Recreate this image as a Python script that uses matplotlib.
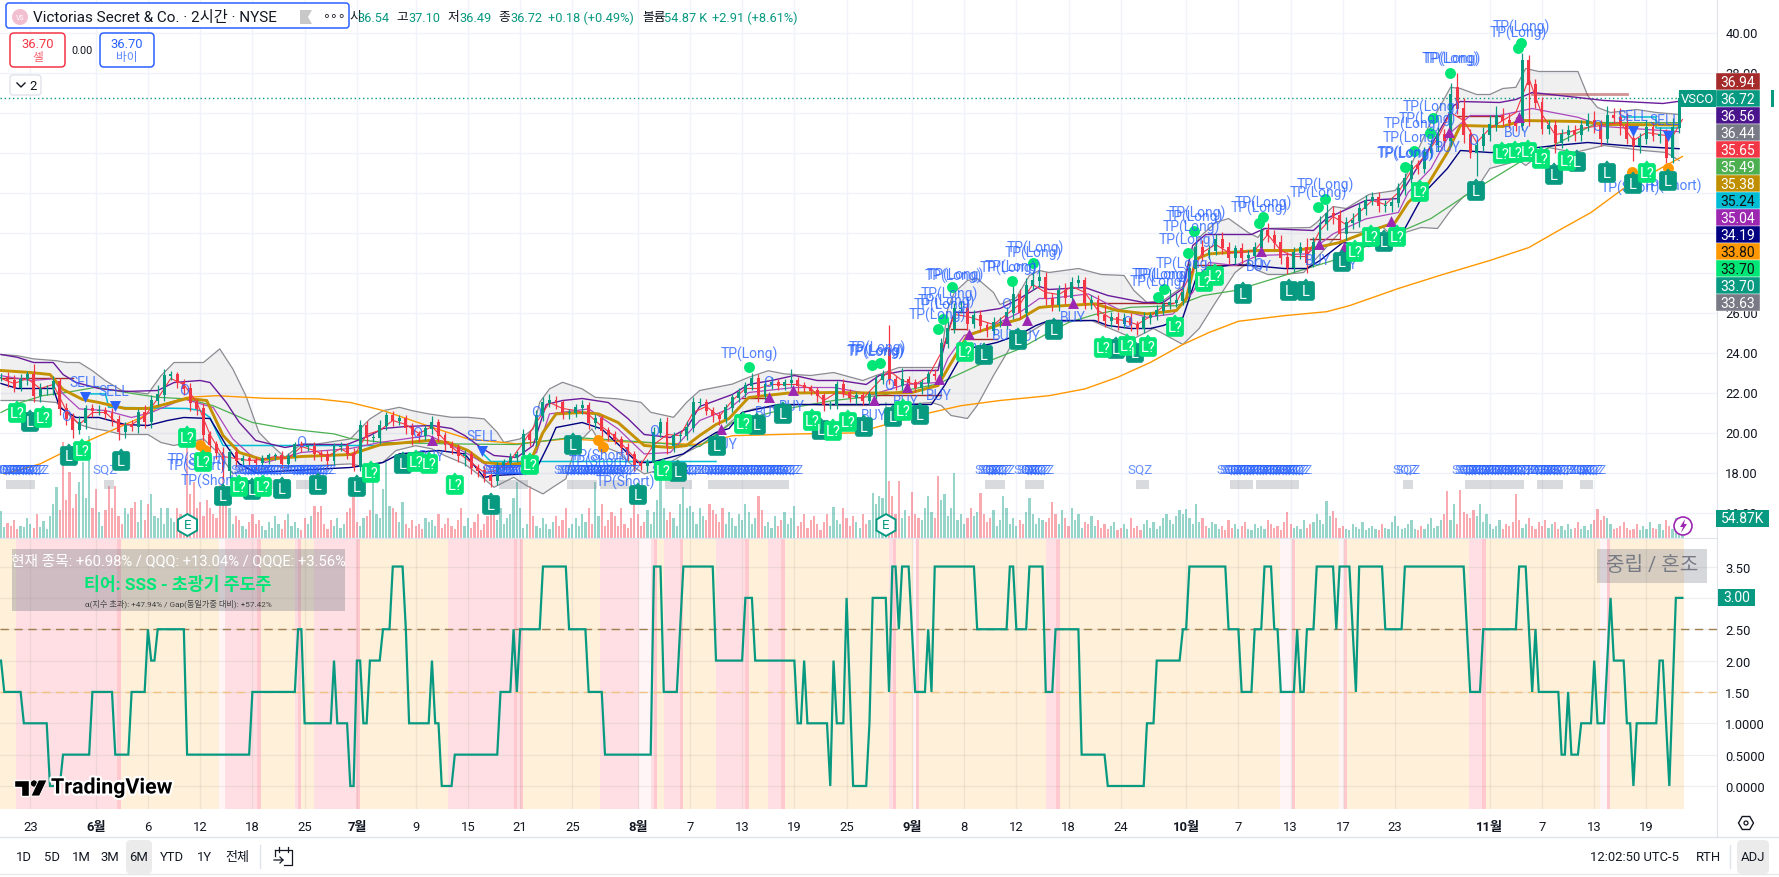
import numpy as np
import matplotlib
matplotlib.use("Agg")
import matplotlib.pyplot as plt
from matplotlib.patches import FancyBboxPatch, Rectangle, Polygon, Circle, RegularPolygon
import matplotlib.patheffects as pe

plt.rcParams['font.family'] = ['Roboto', 'Noto Sans CJK KR', 'DejaVu Sans']

# ------------------------------------------------------------- candles (one per 2 bars)
candle_step = 2
closes = [
22.76,22.6,22.26,22.68,22.93,21.84,22.18,22.18,22.55,21.2,
20.7,20.15,20.5,21.2,21.1,21.1,20.95,20.65,20.05,20.35,
20.3,21.0,20.55,21.6,21.9,22.85,22.9,22.5,22.2,21.5,
21.2,19.9,19.4,19.0,18.1,19.0,18.6,18.7,18.6,18.5,
18.7,18.85,18.85,18.45,18.8,19.4,19.3,19.3,18.95,18.9,
18.6,19.3,19.3,18.95,18.3,20.34,19.75,19.75,20.35,20.85,
20.6,20.7,20.25,19.9,19.85,20.2,20.5,19.85,19.4,19.25,
18.85,18.9,18.25,18.1,17.85,17.6,18.35,18.5,18.75,18.9,
19.9,19.65,20.85,21.5,21.6,21.5,21.0,21.0,21.25,21.35,
20.5,20.7,20.1,19.9,19.65,19.25,18.9,18.4,18.35,18.5,
20.0,20.5,19.35,19.85,19.85,20.25,21.5,21.5,21.1,20.85,
20.7,21.25,21.75,22.0,22.35,22.7,21.85,22.4,22.5,22.35,
22.5,22.6,22.35,22.25,22.1,21.85,21.4,21.4,22.4,22.0,
21.75,21.85,21.6,21.9,22.65,22.9,22.65,22.35,22.65,22.5,
22.25,22.5,22.9,22.85,24.45,25.2,26.2,26.2,25.45,25.85,
25.35,25.1,25.5,25.5,26.0,26.9,26.0,27.35,27.6,27.75,
26.7,26.4,27.1,26.75,27.5,27.6,26.5,26.6,25.85,25.6,
25.75,25.45,25.7,25.4,25.2,25.75,25.85,26.1,26.4,26.5,
26.6,27.0,28.2,29.25,28.9,29.1,29.65,29.25,28.75,29.2,
28.75,28.85,29.25,30.1,29.85,29.5,28.75,28.25,29.0,29.25,
28.5,29.5,30.45,30.95,30.85,29.95,30.5,30.6,31.2,31.6,
31.75,31.35,31.35,31.5,32.2,32.7,33.35,33.2,34.0,34.4,
34.9,34.6,36.9,36.2,34.9,34.0,34.35,34.9,35.4,35.85,
35.6,35.5,35.35,38.6,37.4,36.5,35.2,35.35,34.5,34.9,
35.1,34.9,35.35,35.6,35.35,34.7,35.85,35.75,35.4,34.7,
34.35,34.7,35.25,34.85,34.9,33.75,35.25,36.72]
open_gaps = {272: 24.15, 446: 37.25}
upper_wicks = [
.2,.25,.3,.25,.15,.5,.3,.2,.3,.2,
.3,.3,.35,.2,.25,.3,.2,.3,.25,.2,
.3,.2,.4,.3,.5,.35,.2,.15,.2,.3,
.2,.3,.2,.2,.3,.2,.3,.2,.15,.2,
.2,.15,.15,.25,.2,.15,.2,.15,.25,.2,
.25,.2,.25,.2,.3,.3,.25,.2,.3,.2,
.25,.2,.2,.25,.2,.2,.35,.2,.2,.2,
.2,.25,.2,.2,.25,.15,.2,.2,.25,.2,
.3,.25,.3,.3,.35,.25,.15,.2,.2,.3,
.2,.25,.2,.2,.2,.2,.25,.2,.25,.2,
.3,.25,.3,.2,.2,.35,.3,.25,.2,.2,
.2,.2,.2,.25,.2,.3,.25,.2,.3,.2,
.2,.6,.2,.2,.15,.2,.15,.2,.2,.3,
.2,.2,.2,.2,.25,.25,1.25,.2,.6,.2,
.2,.2,.2,.3,.3,.4,.3,.4,.3,.3,
.3,.2,.3,.3,.3,.5,.3,.4,.5,.4,
.3,.3,.3,.4,.3,.3,.2,.3,.3,.6,
.3,.3,.3,.3,.2,.3,.2,.3,.3,.7,
.4,.3,.3,.3,.4,.3,.3,.4,.3,.2,
.3,.3,.3,.4,.4,.3,.4,.3,.3,.3,
.5,.3,.4,.5,.4,.3,.3,.4,.3,.3,
.3,.3,.3,.3,.3,.3,.3,.3,.3,.3,
.4,.3,.6,.75,.5,.3,.3,.4,.5,.5,
.4,.4,.3,.4,.3,.3,.3,.3,.3,.3,
.3,.3,.3,.4,.5,.3,.5,.4,.5,.6,
.3,.3,.4,.3,.4,.3,.5,.38]
lower_wicks = [
.2,.3,.25,.2,.3,.3,.3,.3,.3,.3,
.3,.4,.2,.3,.3,.2,.25,.3,.4,.3,
.2,.3,.3,.3,.2,.3,.2,.25,.3,.4,
.3,.3,.3,.3,.4,.5,.3,.2,.2,.3,
.2,.25,.2,.2,.2,.2,.25,.2,.3,.3,
.3,.2,.2,.25,.2,.2,.3,.2,.3,.2,
.25,.2,.3,.5,.3,.2,.25,.3,.3,.3,
.3,.5,.3,.3,.3,.3,.2,.2,.2,.2,
.2,.3,.3,.25,.2,.3,.3,.3,.2,.3,
.3,.3,.3,.3,.2,.3,.3,.3,.2,.3,
.3,.2,.4,.3,.3,.2,.2,.2,.2,.3,
.3,.2,.2,.2,.2,.2,.3,.2,.2,.2,
.2,.2,.3,.2,.2,.3,.3,.2,.2,.2,
.2,.3,.2,.2,.2,.2,.2,.2,.2,.2,
.2,.3,.2,.2,.2,.2,.2,.2,.3,.2,
.3,.3,.2,.2,.3,.3,.3,.2,.2,.3,
.3,.3,.3,.3,.2,.2,.3,.3,.3,.3,
.3,.3,.2,.3,.3,.2,.3,.2,.2,.2,
.2,.2,.2,.3,.3,.2,.2,.3,.3,.3,
.3,.3,.2,.3,.3,.3,.3,.3,.2,.3,
.5,.2,.3,.3,.4,.3,.3,.3,.3,.3,
.2,.3,.3,.3,.2,.3,.2,.3,.2,.3,
.3,.3,.3,.3,.4,.3,1.15,.3,.3,.3,
.3,.3,.3,.2,2.05,.3,.3,.3,.5,.3,
.3,.3,.3,.3,.4,.4,.2,.3,.5,.3,
.75,.4,.3,.3,.4,.3,.3,.3]

# volume per bar (1 unit is about 8K shares)
volume_8k = [
27,11,15,12,18,9,12,11,20,14,10,24,11,17,9,22,34,51,28,96,
38,66,30,44,56,76,40,102,30,49,26,12,28,52,30,52,22,14,30,24,
30,36,16,38,18,34,44,22,20,30,14,30,20,16,30,24,12,99,44,56,
30,36,22,38,30,24,20,53,62,44,30,14,22,18,12,9,16,24,14,18,
12,8,16,10,22,14,9,18,24,12,16,10,8,20,14,22,32,26,32,14,
9,18,12,20,10,14,26,30,42,16,12,20,22,28,56,24,20,49,76,32,
30,26,16,36,14,10,18,12,14,9,20,16,18,12,24,10,14,20,12,9,
18,30,12,20,10,16,24,8,14,22,34,26,18,30,14,20,24,40,56,30,
10,14,52,22,12,10,20,14,9,16,22,12,18,30,10,14,20,12,24,16,
30,14,56,22,34,12,18,26,22,12,30,14,10,20,42,24,12,16,28,14,
26,38,66,30,18,26,20,12,34,51,30,32,26,14,30,22,18,34,28,24,
16,30,14,26,20,12,24,18,34,26,14,20,42,28,12,16,10,22,12,18,
26,14,20,32,12,16,24,10,18,22,14,8,16,24,12,31,18,14,30,20,
12,22,16,10,24,14,18,45,34,42,40,136,57,42,24,57,20,28,22,46,
24,20,18,30,42,26,20,62,38,44,22,30,65,18,24,14,20,30,22,26,
45,24,16,20,28,12,18,42,30,14,20,12,18,14,26,40,24,14,20,18,
16,20,36,24,14,28,20,12,30,18,24,10,16,14,22,12,18,10,14,9,
12,16,8,10,14,9,20,10,12,8,14,18,10,16,9,12,20,24,18,14,
22,28,24,29,20,14,34,16,20,12,10,16,14,9,12,8,18,10,14,9,
12,16,9,8,14,10,12,9,18,14,10,12,8,16,26,14,10,12,9,18,
10,14,16,24,18,14,37,22,27,20,10,12,9,8,14,11,9,16,8,10,
12,9,8,14,10,9,16,22,12,9,10,14,18,9,8,12,9,14,20,10,
12,18,24,47,18,34,14,48,26,24,20,28,22,34,16,24,14,9,12,18,
9,14,12,16,44,18,10,14,20,12,9,16,12,18,10,14,16,9,12,8,
14,9,10,16,9,12,8,14,18,29,18,22,20,14,9,10,12,16,10,8,
9,14,8,12,9,16,10,9,14,8,18,12,9,20,16,7]

# ------------------------------------------------------------- overlay lines (read at knots)
bbu_bar = [0,5,10,17,20,24,28,32,37,45,49,53,62,67,71,75,79,83,87,92,97,107,113,117,122,126,131,138,143,148,152,154,159,163,165,168,172,178,182,189,196,199,206,210,214,224,229,235,240,248,255,264,268,275,280,287,288,290,292,296,299,304,306,311,315,318,
           321,330,337,344,347,351,356,362,364,367,372,376,382,385,387,401,403,408,412,416,419,427,430,437,444,447,452,456,460,464,467,471,483,486,489,493,501,507,514]
bbu_val = [23.9,23.84,23.68,23.59,23.5,23.5,23.09,22.59,22.1,21.93,22.84,23.5,23.5,24.18,23.18,21.84,20.01,19.34,18.76,19.43,19.43,19.68,20.68,21.09,21.26,21.09,20.93,20.76,20.76,20.68,20.01,19.51,19.68,20.18,21.51,22.18,22.51,22.18,21.76,21.68,21.51,21.01,20.76,21.51,22.1,22.42,22.76,23.09,22.93,22.85,23.0,22.6,22.85,23.25,23.25,23.25,23.85,26.2,27.0,27.6,27.7,27.0,26.4,26.75,27.85,28.1,
           28.0,28.2,27.9,27.85,27.1,26.5,26.6,27.3,28.7,29.75,30.5,30.7,30.0,29.75,30.2,30.25,30.5,31.3,31.2,31.6,31.9,32.1,32.7,35.2,37.26,37.2,36.9,36.9,37.2,37.26,38.2,38.05,38.05,36.85,36.25,36.0,36.15,36.0,35.9]
bbl_bar = [0,5,10,17,20,24,28,32,37,45,49,53,62,67,71,75,79,83,87,92,97,107,112,117,121,127,132,136,142,148,151,157,161,166,169,173,176,181,184,189,194,197,201,205,210,214,219,227,231,239,245,255,265,271,277,285,288,291,296,299,304,310,320,
           334,339,347,353,362,367,372,378,382,385,388,393,399,410,416,423,425,430,435,440,444,448,452,456,465,467,474,482,491,503,510,514]
bbl_val = [21.6,21.6,21.6,21.5,21.0,20.4,20.2,20.1,19.9,19.9,19.5,19.35,19.68,18.9,17.93,18.2,18.1,18.35,18.25,18.35,18.35,18.43,18.26,18.51,19.1,19.34,19.18,18.84,18.43,17.68,17.26,17.76,17.34,16.93,17.26,17.68,19.34,20.18,19.34,19.01,18.26,17.93,18.09,18.51,19.01,19.34,19.9,21.0,21.2,21.3,21.4,21.35,21.35,21.4,21.4,21.5,21.35,20.85,20.7,21.35,22.85,24.5,25.5,
           25.6,25.25,24.7,25.2,24.4,25.2,26.5,28.0,28.5,28.1,27.9,27.9,28.0,30.0,30.0,30.3,30.0,30.0,30.25,30.2,31.1,31.8,32.2,33.2,33.6,33.35,34.25,34.0,34.35,34.1,34.0,33.6]

purple_upper_bar = [0,5,10,16,19,23,30,38,48,53,61,64,69,73,78,87,92,106,113,117,124,132,138,142,147,151,158,163,167,172,178,186,192,197,205,210,214,224,229,236,243,250,257,265,269,277,287,290,292,298,306,312,318,321,332,339,350,356,362,365,369,383,387,402,406,418,428,430,438,445,447,459,464,469,483,491,509,514]
purple_upper_val = [23.9,23.76,23.5,23.5,22.9,22.5,22.2,22.05,22.1,22.5,22.6,22.5,21.5,20.5,19.6,19.25,19.4,19.4,19.85,20.2,20.3,20.35,20.2,19.85,19.25,18.85,18.75,19.35,21.4,21.6,21.7,21.5,20.7,19.9,19.75,20.2,21.3,21.9,22.4,22.6,22.85,22.6,22.6,22.4,22.85,23.1,23.1,25.0,26.0,26.0,26.2,26.7,27.3,27.15,27.25,26.85,26.5,26.5,27.2,29.35,29.9,29.9,30.2,30.1,30.7,31.6,31.7,32.25,34.35,36.35,36.55,36.5,36.65,37.0,36.75,36.6,36.45,36.56]
navy_bar = [0,5,16,18,23,30,38,45,51,56,64,69,73,78,107,117,122,134,142,148,151,160,164,168,170,178,184,195,199,209,214,219,223,227,238,255,267,285,289,293,296,301,305,312,317,321,335,339,346,352,356,362,366,369,378,383,393,400,404,411,419,425,430,436,443,447,456,464,468,476,486,497,514]
navy_val = [22.45,22.2,22.2,21.25,20.75,20.75,20.4,20.35,20.6,20.75,20.7,19.35,18.43,18.0,18.25,18.5,18.93,19.1,18.93,17.75,17.85,17.93,18.18,19.5,20.25,20.5,20.18,18.5,18.5,18.93,19.5,20.0,20.2,21.0,21.4,21.4,21.4,21.4,22.35,23.5,24.2,24.35,24.5,24.9,25.35,25.6,25.6,25.35,25.2,25.2,25.35,25.75,27.7,28.2,28.4,28.35,28.2,28.2,28.6,29.5,29.3,29.7,30.2,32.0,33.2,34.1,34.0,34.0,34.2,34.35,34.5,34.35,34.19]
gold_bar = [0,9,15,19,25,30,38,45,50,57,63,68,73,80,92,107,116,131,137,143,148,155,162,166,170,178,183,189,197,205,210,214,219,223,229,241,255,268,279,287,290,296,306,312,318,321,335,342,351,360,363,366,370,385,396,403,410,418,427,431,437,443,447,460,466,483,492,514]
gold_val = [23.1,23.0,22.9,22.15,21.65,21.5,21.2,21.2,21.4,21.7,21.6,19.85,19.0,18.65,18.8,18.9,19.38,19.6,19.5,19.1,18.5,18.4,18.5,20.0,20.93,21.0,20.93,20.5,19.35,19.25,19.35,19.85,20.4,20.7,21.75,21.97,22.0,21.97,22.0,22.35,23.2,24.85,25.4,25.67,26.25,26.3,26.43,26.1,25.93,26.1,26.68,28.68,28.93,29.1,29.1,29.25,29.5,30.0,30.5,31.5,32.4,34.0,35.35,35.3,35.6,35.55,35.4,35.38]
purple_mid_bar = [0,9,16,19,24,32,40,46,56,65,71,76,81,92,107,116,131,138,143,150,158,164,168,180,189,197,205,214,223,229,243,255,267,277,287,290,295,302,312,318,321,333,342,351,359,365,370,378,385,400,408,418,428,431,438,444,450,459,469,483,491,514]
purple_mid_val = [22.84,22.6,22.68,21.93,21.18,21.1,20.75,21.0,21.68,21.25,19.68,18.93,18.5,19.0,19.2,19.5,19.85,19.35,18.93,18.25,18.25,19.0,20.93,21.18,20.18,18.93,19.0,20.6,21.18,22.0,22.25,22.25,21.9,22.4,22.5,23.7,24.85,25.2,26.0,26.7,26.7,26.93,26.18,25.76,25.93,27.0,28.5,28.35,28.85,28.93,29.93,30.68,31.0,32.0,33.2,35.0,35.85,35.85,36.2,35.76,35.3,35.04]
red_fast_bar = list(range(0, 516, 4)) + [515]
red_fast_val = [22.7,22.45,22.7,22.2,22.4,21.1,20.4,21.0,21.0,20.4,20.4,20.8,21.7,22.7,22.4,21.5,19.9,18.8,18.7,18.6,18.65,18.8,18.7,19.3,19.1,18.8,19.2,18.8,19.9,20.1,20.6,20.4,19.95,20.3,19.6,19.0,18.5,18.0,18.1,18.6,19.5,20.5,21.5,21.2,21.1,20.9,20.3,19.8,19.1,18.4,19.4,19.9,19.85,21.0,21.3,20.8,21.6,22.2,22.2,22.4,22.4,22.4,22.2,21.6,22.0,21.85,21.7,22.4,23.1,22.6,22.4,22.8,24.0,25.9,25.8,25.6,25.4,25.9,26.4,27.4,27.0,26.9,27.3,27.0,26.1,25.7,25.6,25.4,25.8,26.3,26.5,27.8,29.0,29.4,29.0,29.0,29.1,29.9,29.1,28.8,28.8,30.1,30.8,30.4,31.0,31.6,31.4,32.0,33.1,33.8,34.7,36.0,35.6,34.5,35.2,35.6,36.0,37.7,35.9,34.9,35.0,35.2,35.3,35.4,35.5,34.6,35.0,34.9,34.8,35.65]
orange_bar = [1,12,19,28,35,43,50,57,66,81,97,107,117,132,143,158,173,194,214,224,245,262,268,283,294,306,321,332,342,352,362,370,379,393,406,413,428,441,456,468,476,487,497,515]
orange_val = [17.93,18.43,19.0,19.68,20.18,20.76,21.43,21.76,21.84,21.71,21.68,21.5,21.1,20.26,19.68,19.43,19.68,19.51,19.4,19.84,19.93,19.98,20.26,20.93,21.34,21.6,21.84,22.18,22.76,23.5,24.4,25.0,25.56,25.84,26.04,26.34,27.2,27.87,28.6,29.25,30.0,31.0,32.2,33.8]
green_bar = [0,6,13,20,29,41,48,57,65,77,88,102,107,117,138,158,175,199,214,224,240,255,270,287,299,312,321,327,335,346,360,368,378,392,408,428,438,450,465,476,489,514]
green_val = [21.0,21.5,21.85,22.0,22.26,21.93,21.76,21.68,21.34,20.5,20.18,19.93,19.7,19.5,19.43,19.4,19.76,19.5,19.3,20.5,21.17,21.6,21.87,22.43,23.34,24.18,25.0,25.5,25.9,26.26,26.34,26.84,27.1,27.8,28.6,30.0,30.7,32.0,33.5,34.4,35.5,35.49]

stop_start = [0,227,268,291,296,335,366,401,446]
stop_end = [22,235,288,296,305,359,382,410,460]
stop_val = [22.75,21.75,21.9,25.2,24.67,26.5,28.4,29.7,35.84]
resist_start = [469]; resist_end = [498]; resist_val = [36.94]
cyan_runs = [([26,32,33,57,61,64,68,115],[21.93,21.93,21.26,21.2,21.1,20.75,19.35,19.35]),
             ([147,150,219],[19.05,18.55,18.55]),
             ([496,507,507,514],[35.76,35.76,35.24,35.24])]

# ------------------------------------------------------------- signals
buy_tri_bar = [132,220.4,235.2,242.5,267.5,277.4,287.3,296.5,307.7,314.4,328.4,385.8,403.7,411.3,425.9,443.6,465]
buy_tri_val = [19.64,20.2,21.76,22.14,21.64,22.3,22.68,24.93,25.64,25.64,26.5,29.1,29.43,29.26,30.6,35.04,35.8]
sell_tri_bar = [25.7,34.9,147.2,499.9,510.6]
sell_tri_val = [21.8,21.34,19.09,35.1,34.85]
tp_long_bar = [229.1,268.3,268,267.7,292.2,291.6,290.4,289.4,288.2,286.7,316.7,316.1,310,308.4,362.6,355,354.4,355.9,363.3,364.5,365.4,366.3,385.3,386.5,403.4,405.5,430.6,430,431.9,432.2,437,438,443.8,444.4,464.9,465.8]
tp_long_val = [23.98,24.28,24.13,24.08,27.93,27.88,26.98,26.63,26.43,25.93,29.28,29.03,28.33,28.28,28.48,27.93,27.58,27.93,29.68,30.33,30.83,31.03,31.28,31.53,32.03,32.43,34.03,33.98,34.78,35.48,35.73,36.33,38.73,38.73,40.03,40.33]
tp_dot_bar = [229.1,266.8,269.2,291.3,288.5,287,309.6,316.1,354.4,356.2,363.5,365.4,385.3,386.5,403.4,405.5,430,432.8,437.7,438.6,443.8,465.5,464.6]
tp_dot_val = [23.28,23.4,23.5,27.3,25.7,25.2,27.6,28.5,26.8,27.2,29,30.1,30.5,30.8,31.3,31.7,33.3,34.1,35,35.7,38,39.5,39.2]
short_dot_bar = [61,62.5,182.8,184.5,499.7,510.6]
short_dot_val = [19.38,19.13,19.63,19.26,33.04,33.2]
tp_short_bar = [60.3,60,64,183.5,183,191.1,499,511.8]
tp_short_val = [18.68,18.38,17.63,18.88,18.58,17.58,32.28,32.38]
sell_txt_bar = [25.7,34.6,147.3,499.9,509.6]
sell_txt_val = [22.53,22.08,19.83,35.83,35.63]
buy_txt_bar = [132,234.9,242.3,267.4,277.2,287.3,296.8,307.5,314.5,328.3,385.3,403.4,411.6,443.2,464.3,221.7]
buy_txt_val = [18.83,21.03,21.33,20.88,21.58,21.88,24.18,24.88,24.83,25.78,28.33,28.63,28.43,34.28,35.03,19.43]
open_txt_bar = [20,56,92,127.5,164,200,235,272,308,345,385,451,489]
open_txt_val = [20.8,22.1,19.5,19.97,21.0,20.05,22.5,22.35,26.4,25.5,28.4,34.6,35.3]
l_flag_bar = [8.9,20.8,36.8,68,76.9,86.1,97.1,109,123.1,150.1,175.2,195.1,207.3,219.3,231.5,239.5,251.1,264.3,273.2,281.5,301.1,311.5,322.5,341.5,347.3,380.4,394.5,399.7,410.7,423.6,451.8,475.7,482.7,491.9,499.9,510.6]
l_flag_val = [20.53,18.83,18.58,16.83,17.13,17.18,17.38,17.28,18.43,16.38,19.38,16.88,18.03,19.33,20.38,20.93,20.13,20.28,20.78,20.88,23.88,24.63,25.13,24.18,23.98,26.93,27.08,27.08,28.53,29.53,32.08,32.88,33.53,32.98,32.43,32.58]
lq_flag_bar = [4.9,12.9,24.8,57,61.9,72.9,80.2,113.3,127.1,131.1,139,162,202.8,227.3,248.4,254.8,259.4,276.3,295.3,337.5,344.9,351.3,359.6,368.5,371.8,414.7,419.6,427.6,434.6,459.7,463.7,467.7,471.7,479.6,504.1]
lq_flag_val = [20.98,20.73,19.08,19.73,18.53,17.28,17.28,17.98,18.53,18.43,17.38,18.38,18.08,20.43,20.58,20.08,20.53,21.08,24.03,24.23,24.33,24.28,25.28,27.53,27.83,29.03,29.78,29.78,32.03,33.93,33.98,34.03,33.68,33.58,32.98]
sqz_text_start = [1,32,74,89,151,173,183,203,216,302,314,349,376,384,430,448,470,483]
sqz_text_end   = [11,32,85,99,160,183,192,212,242,307,319,349,383,398,431,467,479,488]
sqz_box_start  = [2,32,76,91,153,174,184,204,217,302,314,348,377,385,430,449,471,484]
sqz_box_end    = [10,34,85,98,161,182,192,211,241,307,319,351,383,397,432,466,478,487]

# ------------------------------------------------------------- oscillator: bar where a level begins, and the level
osc_start = [0,1,7,15,19,28,35,40,45,46,48,57,77,91,93,102,103,107,109,111,113,117,120,124,125,132,133,135,139,153,157,158,159,166,174,180,185,200,203,208,209,219,228,231,244,246,247,254,255,256,259,260,261,266,267,272,273,275,276,279,280,284,285,286,299,309,311,315,320,323,331,339,351,354,362,364,376,380,384,387,390,392,397,398,400,403,409,410,414,415,416,424,430,449,450,454,465,468,469,470,471,478,480,481,484,488,489,492,493,494,498,500,501,508,510,511,512,513]
osc_level = [2.0,1.5,1.0,0,0.5,1.5,0.5,1.5,2.5,2.0,2.5,0.5,1.5,2.5,1.0,2.0,1.0,0,2.0,1.0,2.0,2.5,3.5,2.5,1.0,2.0,1.0,0,0.5,1.5,2.5,1.5,2.5,3.5,2.5,1.5,0.5,3.5,1.5,2.5,3.5,2.0,3.0,2.0,1.0,2.0,1.0,0,2.0,1.0,3.0,1.5,0,1.0,3.0,1.5,3.5,2.5,3.5,2.5,1.5,2.5,1.5,3.5,2.5,3.5,2.5,3.5,1.5,2.5,0.5,0,1.0,2.0,2.5,3.5,2.5,1.5,2.5,3.5,2.5,1.5,2.5,1.5,2.5,3.5,2.5,3.5,2.5,1.5,3.5,2.5,3.5,2.5,1.5,2.5,3.5,2.5,1.5,2.5,1.5,0.5,1.5,0.5,1.0,2.0,1.0,2.0,3.0,2.0,1.0,0,1.0,2.0,1.0,0,1.5,3.0]
osc_last_bar = 515
osc_guides = [2.5, 1.5]
bg_edges = [-0.3,4.6,35.5,36.7,66.8,68.6,78.5,79.7,90,90.9,92,96,108.7,110,137,157,158,159.1,160,183.5,195.3,199.1,200,201,203.1,208,209,219,228,229.1,235,239,240.1,272.1,273.3,274.2,279.4,280.3,281.3,320.2,323.2,324.4,391.6,395.4,396.4,409.8,411.4,412.3,449.5,453.5,454.7,489.7,491.8,492.8,515.6]
bg_kinds = "OPDOWPDOPDOPDOPDPDOPWPDOPDOPDOPDOPDOWDOPDOWDOWDOPDOWDO"

# ------------------------------------------------------------- ticks and labels
time_tick_bar = [9,29,45,61,77,93,109,127,143,159,175,195,211,227,243,259,279,295,311,327,343,363,379,395,411,427,456,472,488,504]
time_tick_lab = ['23','6월','6','12','18','25','7월','9','15','21','25','8월','7','13','19','25','9월','8','12','18','24','10월','7','13','17','23','11월','7','13','19']
month_labels = {'6월','7월','8월','9월','10월','11월'}
price_ticks = [16,18,20,22,24,26,28,30,32,34,36,38,40]
osc_ticks = [0,0.5,1,1.5,2,2.5,3,3.5]
osc_tick_lab = ['0.0000','0.5000','1.0000','1.50','2.00','2.50','3.00','3.50']
tag_vals = ['36.94','36.72','36.56','36.44','35.65','35.49','35.38','35.24','35.04','34.19','33.80','33.70','33.70','33.63']
tag_cols = ['#a52a2a','#089981','#4a148c','#787b86','#f23645','#4caf50','#bf8f00','#00bcd4','#9c27b0','#000080','#ff9800','#00e676','#089981','#787b86']
tag_text = ['w','w','w','w','w','w','w','k','w','w','k','k','w','w']

UP, DOWN = '#089981', '#f23645'
W, H = 1779, 878
fig = plt.figure(figsize=(W/100, H/100), dpi=100, facecolor='white')
def rect(x0, y0, x1, y1):
    return [x0/W, 1-y1/H, (x1-x0)/W, (y1-y0)/H]

x_lim = (-0.306, 525.6)
axv = fig.add_axes(rect(0, 0, 1717, 539), zorder=1)
axm = fig.add_axes(rect(0, 0, 1717, 539), zorder=2, facecolor='none')
axo = fig.add_axes(rect(0, 539, 1717, 810), zorder=2)
ui = fig.add_axes([0, 0, 1, 1], zorder=20, facecolor='none')
ui.set_xlim(0, W); ui.set_ylim(H, 0); ui.axis('off')

for a in (axv, axm, axo):
    a.set_xlim(*x_lim)
    for s in a.spines.values():
        s.set_visible(False)

axv.set_ylim(0, 539); axv.set_xticks([]); axv.set_yticks([])
for b in time_tick_bar:
    axv.axvline(b, color='#f0f3fa', lw=1, zorder=0)
for p in price_ticks:
    axv.axhline((p-14.725)*20, color='#f0f3fa', lw=1, zorder=0)

n = len(closes)
cbar = np.arange(n)*candle_step
opens = [closes[0]] + closes[:-1]
opens = [open_gaps.get(int(b), o) for b, o in zip(cbar, opens)]
up = [c >= o for o, c in zip(opens, closes)]
vol_col = [UP if up[min(i//candle_step, n-1)] else DOWN for i in range(len(volume_8k))]
axv.bar(np.arange(len(volume_8k)), volume_8k, width=0.68, color=vol_col, alpha=0.42, lw=0, zorder=1)

axm.set_ylim(14.725, 41.675)
axm.set_xticks([])
axm.yaxis.tick_right()
axm.set_yticks(price_ticks, [f'{p:.2f}' for p in price_ticks])
axm.tick_params(axis='y', length=0, pad=6, labelsize=9.4, labelcolor='#131722')
axm.axhline(36.72, color='#089981', lw=1, ls=(0, (1, 2)), zorder=2)

axm.fill(bbu_bar + bbl_bar[::-1], bbu_val + bbl_val[::-1], color='#787b86', alpha=0.11, lw=0, zorder=1)
axm.plot(bbu_bar, bbu_val, color='#8b8b92', lw=0.9, zorder=2)
axm.plot(bbl_bar, bbl_val, color='#8b8b92', lw=0.9, zorder=2)
axm.plot(orange_bar, orange_val, color='#ff9800', lw=1.0, zorder=2)
axm.plot(green_bar, green_val, color='#4caf50', lw=0.9, zorder=2)
for s, e, v in zip(stop_start, stop_end, stop_val):
    axm.plot([s, e], [v, v], color='#a52a2a', lw=1.0, zorder=2)
for s, e, v in zip(resist_start, resist_end, resist_val):
    axm.plot([s, e], [v, v], color='#a52a2a', lw=2, alpha=0.5, zorder=2)
for bb, vv in cyan_runs:
    axm.plot(bb, vv, color='#00bcd4', lw=1.1, zorder=2)
axm.plot(purple_upper_bar, purple_upper_val, color='#6a1b9a', lw=1.0, zorder=3)
axm.plot(navy_bar, navy_val, color='#000080', lw=1.0, zorder=3)
axm.plot(purple_mid_bar, purple_mid_val, color='#ab47bc', lw=0.9, zorder=3)
axm.plot(gold_bar, gold_val, color='#c49102', lw=2.1, zorder=3)
axm.plot(red_fast_bar, red_fast_val, color='#f23645', lw=0.8, zorder=3)

col = [UP if u else DOWN for u in up]
hi = [max(o, c)+w for o, c, w in zip(opens, closes, upper_wicks)]
lo = [min(o, c)-w for o, c, w in zip(opens, closes, lower_wicks)]
axm.vlines(cbar, lo, hi, colors=col, lw=0.9, zorder=4)
axm.bar(cbar, np.abs(np.array(closes)-np.array(opens))+0.04,
        bottom=np.minimum(opens, closes)-0.02, width=0.9, color=col, lw=0, zorder=4)

axm.scatter(buy_tri_bar, buy_tri_val, marker='^', s=62, color='#9c27b0', lw=0, zorder=5)
axm.scatter(sell_tri_bar, sell_tri_val, marker='v', s=62, color='#2962ff', lw=0, zorder=5)
axm.scatter(tp_dot_bar, tp_dot_val, s=62, color='#00e676', lw=0, zorder=5)
axm.scatter(short_dot_bar, short_dot_val, s=62, color='#ff9800', lw=0, zorder=5)

BLUE = '#2962ff'
def labels(bars, vals, txt, size=10):
    for b, v in zip(bars, vals):
        axm.text(b, v, txt, ha='center', va='center', color=BLUE, alpha=0.8, fontsize=size, zorder=6, clip_on=True)
labels(tp_long_bar, tp_long_val, 'TP(Long)')
labels(tp_short_bar, tp_short_val, 'TP(Short)')
labels(sell_txt_bar, sell_txt_val, 'SELL')
labels(buy_txt_bar, buy_txt_val, 'BUY')
labels(open_txt_bar, open_txt_val, 'O', 10.5)
for s, e in zip(sqz_text_start, sqz_text_end):
    for b in range(s, e+1):
        axm.text(b, 18.18, 'SQZ', ha='center', va='center', color=BLUE, alpha=0.7, fontsize=9.6, zorder=6, clip_on=True)
for s, e in zip(sqz_box_start, sqz_box_end):
    for b in range(s, e+1):
        axm.add_patch(Rectangle((b-0.5, 17.18), 1, 0.45, fc='#787b86', ec='none', alpha=0.28, zorder=3))

def flag(b, v, fc, txt):
    fw, fh = 5.3, 0.95
    axm.add_patch(FancyBboxPatch((b-fw/2, v-fh/2), fw, fh, boxstyle='round,pad=0,rounding_size=0.8',
                                 mutation_aspect=0.18, fc=fc, ec=fc, lw=0.5, zorder=7))
    axm.add_patch(Polygon([(b-0.8, v+fh/2), (b, v+fh/2+0.15), (b+0.8, v+fh/2)], fc=fc, ec='none', zorder=7))
    axm.text(b, v, txt, ha='center', va='center', color='white', fontsize=10.5, zorder=8)
for b, v in zip(l_flag_bar, l_flag_val):
    flag(b, v, '#089981', 'L')
for b, v in zip(lq_flag_bar, lq_flag_val):
    flag(b, v, '#00e676', 'L?')

axo.set_ylim(-0.367, 3.955)
cols = {'O': '#fff0d9', 'P': '#ffdfe3', 'W': '#fff5f6', 'D': '#ffc9cf'}
for i, k in enumerate(bg_kinds):
    axo.axvspan(bg_edges[i], bg_edges[i+1], color=cols[k], lw=0, zorder=0)
for t in osc_ticks:
    axo.axhline(t, color='#8a8a8a', alpha=0.13, lw=1, zorder=1)
for b in time_tick_bar:
    axo.axvline(b, color='#8a8a8a', alpha=0.13, lw=1, zorder=1)
axo.axhline(osc_guides[0], color='#a08050', lw=1, ls=(0, (6, 4)), zorder=1)
axo.axhline(osc_guides[1], color='#f2c283', lw=1, ls=(0, (6, 4)), zorder=1)
osc = np.repeat(osc_level, np.diff(osc_start + [osc_last_bar + 1]))
axo.plot(np.arange(len(osc)), osc, color='#089981', lw=1.6, zorder=3, solid_joinstyle='miter')
axo.yaxis.tick_right()
axo.set_yticks(osc_ticks, osc_tick_lab)
axo.tick_params(axis='y', length=0, pad=6, labelsize=9.4, labelcolor='#131722')
axo.set_xticks(time_tick_bar, time_tick_lab)
axo.tick_params(axis='x', length=0, pad=8, labelsize=9.4, labelcolor='#131722')
for lab in axo.get_xticklabels():
    if lab.get_text() in month_labels:
        lab.set_fontweight('bold')

# ------------------------------------------------------------- interface
def box(x0, y0, x1, y1, fc='white', ec='none', lw=1, r=3, alpha=None, z=2):
    ui.add_patch(FancyBboxPatch((x0+r, y0+r), x1-x0-2*r, y1-y0-2*r, boxstyle=f'round,pad={r},rounding_size={r}',
                                fc=fc, ec=ec, lw=lw, alpha=alpha, zorder=z))
def txt(x, y, s, c='#131722', size=9.4, ha='left', weight='normal', alpha=None, z=5, **kw):
    return ui.text(x, y, s, color=c, fontsize=size, ha=ha, va='center', fontweight=weight, alpha=alpha, zorder=z, **kw)

ui.plot([0, W], [838, 838], color='#e0e3eb', lw=1, zorder=1)
ui.plot([0, W], [875, 875], color='#e8e8ec', lw=1, zorder=1)
ui.plot([0, 1717], [539, 539], color='#e0e3eb', lw=0.8, zorder=1)
ui.plot([1717, 1717], [0, 838], color='#e0e3eb', lw=0.8, zorder=1)

box(6, 4, 349, 29, fc='white', ec='#2962ff', lw=1.1, r=3)
ui.add_patch(Circle((20, 18), 8, fc='#f2bfd0', ec='none', zorder=3))
txt(20, 18, 'VS', c='white', size=5, ha='center')
txt(33, 18, 'Victorias Secret & Co. · 2시간 · NYSE', size=11)
ui.add_patch(Polygon([(300, 11), (312, 11), (308, 18), (312, 25), (300, 25)], fc='#c8c8c8', ec='none', zorder=4))
txt(334, 16, '∘∘∘', size=9, ha='center')
ohlc_x = [349, 396, 447, 498, 642]
ohlc_k = ['시', '고', '저', '종', '볼륨']
ohlc_v = ['36.54', '37.10', '36.49', '36.72', '54.87 K']
ohlc_vx = [357, 408, 459, 510, 664]
for x, k, vx, v in zip(ohlc_x, ohlc_k, ohlc_vx, ohlc_v):
    txt(x, 18, k, size=9.2)
    txt(vx, 18, v, c=UP, size=9.2)
txt(548, 18, '+0.18 (+0.49%)', c=UP, size=9.2)
txt(712, 18, '+2.91 (+8.61%)', c=UP, size=9.2)

box(10, 34, 65, 68, ec='#f23645', lw=1.1, r=4)
txt(37.5, 44, '36.70', c='#f23645', size=9.4, ha='center')
txt(37.5, 58, '셀', c='#f7626f', size=8.4, ha='center')
txt(82, 51, '0.00', size=7.8, ha='center')
box(100, 34, 154, 68, ec='#2962ff', lw=1.1, r=4)
txt(127, 44, '36.70', c='#2962ff', size=9.4, ha='center')
txt(127, 58, '바이', c='#5a85ff', size=8.4, ha='center')
box(10, 76, 41, 96, ec='#e0e3eb', lw=1, r=3)
ui.plot([17, 21, 25], [84, 88, 84], color='#131722', lw=1, zorder=5)
txt(33, 86, '2', size=9.4, ha='center')

for i, (v, c, t) in enumerate(zip(tag_vals, tag_cols, tag_text)):
    yc = 82.7 + 17*i
    ui.add_patch(Rectangle((1716, yc-8.5), 44, 17, fc=c, ec='white', lw=0.3, zorder=3))
    txt(1738, yc, v, c='white' if t == 'w' else '#111111', size=10, ha='center')
ui.add_patch(Rectangle((1679, 91), 37, 17, fc=UP, ec='none', zorder=3))
txt(1697.5, 99.5, 'VSCO', c='white', size=9.4, ha='center')
ui.add_patch(Rectangle((1771, 91), 2.5, 17, fc=UP, ec='none', zorder=3))
ui.add_patch(Rectangle((1716, 511), 53, 17, fc=UP, ec='none', zorder=3))
txt(1742.5, 519.5, '54.87K', c='white', size=10, ha='center')
ui.add_patch(Rectangle((1718, 590), 37, 17, fc=UP, ec='none', zorder=3))
txt(1736.5, 598.5, '3.00', c='white', size=10, ha='center')

for ex in (187.5, 886):
    ui.add_patch(RegularPolygon((ex, 526), 6, radius=11, fc='white', ec=UP, lw=1.4, zorder=4))
    txt(ex, 526, 'E', c=UP, size=9.5, ha='center')
ui.add_patch(Circle((1683, 527), 9, fc='white', ec='#9c27b0', lw=1.2, zorder=4))
ui.add_patch(Polygon([(1685, 520), (1680, 528), (1683, 528), (1681, 534), (1687, 525), (1684, 525)], fc='#9c27b0', ec='none', zorder=5))

ui.add_patch(Rectangle((12, 550), 333, 62, fc='#787b86', alpha=0.35, ec='none', zorder=3))
txt(178, 561, '현재 종목: +60.98% / QQQ: +13.04% / QQQE: +3.56%', c='white', size=10.6, ha='center')
txt(178, 585, '티어: SSS - 초광기 주도주', c='#00e676', size=12.4, ha='center', weight='bold')
txt(178, 604, 'α(지수 초과): +47.94% / Gap(동일가중 대비): +57.42%', c='#444444', size=5.9, ha='center')
ui.add_patch(Rectangle((1597, 550), 110, 34, fc='#787b86', alpha=0.3, ec='none', zorder=3))
txt(1652, 566, '중립 / 혼조', c='#787b86', size=14.5, ha='center')

outline = [pe.withStroke(linewidth=3, foreground='white')]
logo_a = Polygon([(14, 781), (29, 781), (29, 797), (21, 797), (21, 788), (14, 788)], fc='black', ec='white', lw=1, zorder=6)
logo_b = Circle((34, 784.5), 3.6, fc='black', ec='white', lw=0.6, zorder=6)
logo_c = Polygon([(38.5, 781), (47, 781), (39.5, 797), (31, 797)], fc='black', ec='white', lw=0.6, zorder=6)
for p in (logo_a, logo_b, logo_c):
    ui.add_patch(p)
txt(51, 789, 'TradingView', c='black', size=15.4, weight='bold', path_effects=outline, z=6)

range_lab = ['1D', '5D', '1M', '3M', '6M', 'YTD', '1Y', '전체']
range_x = [24, 52, 81, 110, 139, 172, 204, 237]
box(126, 841, 152, 875, fc='#ebebeb', r=5)
for x, s in zip(range_x, range_lab):
    txt(x, 858, s, size=9.4, ha='center')
ui.plot([260, 260], [846, 869], color='#e0e3eb', lw=1, zorder=4)
ui.plot([275, 292, 292, 284], [851, 851, 866, 866], color='#131722', lw=0.9, zorder=4)
ui.plot([275, 275], [851, 857], color='#131722', lw=0.9, zorder=4)
ui.plot([279, 279], [848, 853], color='#131722', lw=0.9, zorder=4)
ui.plot([288, 288], [848, 853], color='#131722', lw=0.9, zorder=4)
ui.plot([274, 283, 280], [861, 861, 858], color='#131722', lw=0.9, zorder=4)
ui.plot([280, 283], [864, 861], color='#131722', lw=0.9, zorder=4)
txt(1635, 858, '12:02:50 UTC-5', size=9.4, ha='center')
txt(1708, 858, 'RTH', size=9.4, ha='center')
ui.plot([1730, 1730], [846, 869], color='#e0e3eb', lw=1, zorder=4)
box(1737, 841, 1769, 875, fc='#ebebeb', r=5)
txt(1753, 858, 'ADJ', size=9.4, ha='center')
ui.add_patch(RegularPolygon((1746, 824), 6, radius=7.5, orientation=np.pi/6, fc='white', ec='#131722', lw=1, zorder=4))
ui.add_patch(Circle((1746, 824), 2, fc='white', ec='#131722', lw=0.9, zorder=5))

fig.savefig('out.png', dpi=100, facecolor='white')
